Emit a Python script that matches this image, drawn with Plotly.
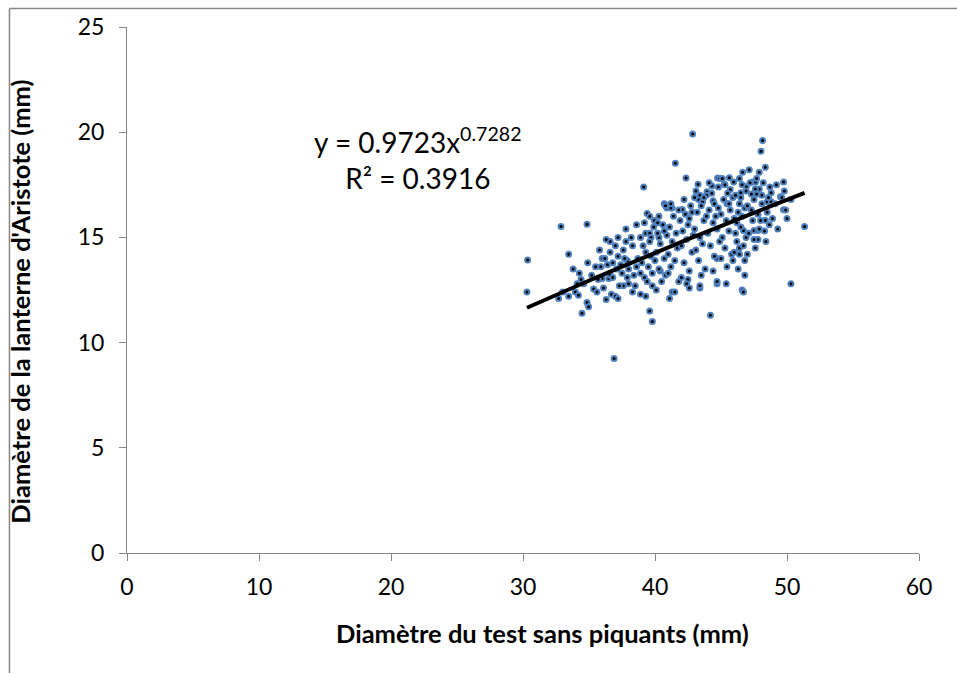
import numpy as np
import plotly.graph_objects as go

# Test diameter without spines (mm) and Aristotle's lantern diameter (mm)
test_diam = [
    30.35, 30.3, 32.88, 34.85, 33.46, 34.27, 32.7, 33.46, 33.96, 34.2, 34.6, 35.35, 34.85, 34.97, 34.47,
    36.3, 36.7, 37.0, 37.2, 36.9, 35.5, 35.9, 36.0, 36.2, 36.5, 36.0, 36.6, 36.8, 37.5, 37.9, 37.9, 38.6,
    36.6, 37.2, 37.7, 37.0, 37.2, 36.6, 38.2, 38.9, 39.3, 39.6, 39.7, 40.3, 39.4, 39.95, 40.7, 40.9, 41.3,
    39.14, 41.54, 42.85, 48.15, 48.03, 48.36, 46.64, 47.14, 42.35, 44.74, 45.63, 45.96, 45.25, 43.26, 44.32,
    47.37, 47.62, 49.74, 45.7, 43.94, 46.92, 47.3, 47.7, 47.9, 47.6, 46.5, 48.8, 49.5, 46.4, 46.5, 43.3,
    43.6, 43.0, 43.4, 40.8, 41.2, 44.4, 45.45, 48.1, 48.5, 48.8, 49.74, 51.33, 42.07, 48.36, 48.66, 46.7,
    47.5, 47.8, 47.8, 46.4, 46.4, 45.45, 46.8, 44.7, 39.8, 44.2, 50.3,
    39.6, 46.6, 44.7, 43.4, 42.5, 41.3, 39.3, 38.9, 40.4,
    37.6, 37.8, 38.0, 38.3, 38.4, 38.5, 38.7, 38.9, 38.0, 38.3, 37.8, 38.6, 37.4, 37.6,
    39.0, 39.1, 39.2, 39.3, 39.4, 39.5, 39.6, 39.7, 39.8, 39.9, 39.2, 39.8, 39.6,
    40.0, 40.1, 40.2, 40.3, 40.4, 40.5, 40.6, 40.7, 40.8, 40.9, 40.1, 40.3, 40.2, 40.7,
    41.0, 41.1, 41.2, 41.3, 41.4, 41.5, 41.6, 41.7, 41.8, 41.9, 41.0, 41.2, 41.5, 41.8, 41.1,
    42.0, 42.1, 42.2, 42.3, 42.4, 42.5, 42.6, 42.7, 42.8, 42.9, 42.0, 42.2, 42.4, 42.6, 42.8, 42.6,
    43.0, 43.1, 43.2, 43.3, 43.4, 43.5, 43.6, 43.7, 43.8, 43.9, 43.1, 43.5, 43.9, 43.7, 43.4,
    44.0, 44.1, 44.2, 44.3, 44.4, 44.5, 44.6, 44.7, 44.8, 44.9, 44.4, 44.5, 44.8, 44.1, 44.7, 44.9,
    45.0, 45.1, 45.2, 45.3, 45.4, 45.5, 45.6, 45.7, 45.8, 45.9, 45.0, 45.3, 45.6, 45.9, 45.1, 45.4,
    46.0, 46.1, 46.2, 46.3, 46.5, 46.6, 46.7, 46.8, 46.9, 46.0, 46.2, 46.4, 46.6, 46.8, 46.9, 46.3, 46.7, 46.1,
    47.0, 47.1, 47.2, 47.4, 47.5, 47.6, 47.8, 47.9, 47.0, 47.3, 47.7, 47.5, 47.9,
    48.0, 48.2, 48.3, 48.5, 48.7, 48.9, 48.4, 48.6, 48.1,
    49.1, 49.3, 49.6, 49.8, 49.9, 50.3, 49.2, 50.0,
    35.2, 35.6, 35.8, 36.1, 36.4, 36.8, 37.1, 37.3, 36.3, 35.7, 34.9, 34.4, 34.1, 33.8, 33.0,
]
lantern_diam = [
    13.92, 12.41, 15.52, 15.62, 14.2, 13.3, 12.1, 12.2, 12.4, 12.25, 12.8, 12.55, 11.9, 11.7, 11.4,
    12.05, 12.3, 12.2, 12.1, 9.24, 13.6, 13.6, 14.0, 14.0, 13.05, 13.05, 13.2, 13.1, 13.3, 13.1, 13.9, 13.6,
    14.3, 14.1, 14.0, 14.6, 15.0, 14.8, 15.0, 15.0, 15.2, 15.2, 15.0, 15.0, 16.14, 15.8, 16.6, 16.4, 16.4,
    17.4, 18.52, 19.92, 19.61, 19.1, 18.33, 18.1, 18.21, 17.82, 17.82, 17.83, 17.63, 17.53, 17.53, 17.44,
    17.63, 17.63, 17.63, 17.28, 17.17, 17.41, 17.06, 17.06, 17.3, 17.3, 17.12, 17.12, 16.93, 16.6, 16.9, 16.8,
    16.7, 16.9, 17.0, 16.5, 16.4, 16.74, 16.6, 16.6, 16.7, 16.7, 16.31, 15.52, 16.33, 15.82, 15.6, 15.33,
    15.33, 15.33, 14.9, 14.5, 14.2, 13.6, 13.2, 14.0, 11.0, 11.3, 12.8,
    11.5, 12.5, 12.8, 12.6, 13.0, 12.4, 12.2, 12.3, 13.4,
    14.4, 14.8, 13.5, 14.6, 13.2, 12.7, 14.0, 13.3, 12.8, 12.4, 15.4, 15.6, 13.7, 12.7,
    13.8, 14.6, 13.1, 14.3, 12.9, 13.6, 14.8, 14.1, 13.3, 15.5, 15.7, 12.7, 16.0,
    13.9, 14.3, 15.2, 13.5, 14.7, 12.9, 15.6, 14.0, 13.2, 15.1, 12.5, 16.0, 15.7, 15.3,
    14.2, 15.5, 13.6, 14.8, 16.0, 13.9, 15.2, 14.5, 12.9, 15.8, 13.3, 16.6, 12.4, 16.3, 12.1,
    14.6, 15.3, 13.8, 16.1, 14.9, 15.6, 13.4, 16.5, 14.3, 15.1, 13.1, 16.8, 12.8, 15.9, 16.2, 12.6,
    15.4, 14.4, 16.2, 13.9, 15.0, 16.5, 14.7, 15.8, 13.5, 16.0, 17.2, 13.2, 17.0, 16.9, 12.7,
    15.2, 16.3, 14.6, 17.1, 15.7, 14.1, 16.0, 15.4, 17.4, 14.8, 13.4, 16.6, 16.4, 17.6, 12.9, 17.8,
    16.1, 15.0, 16.8, 14.5, 15.8, 17.1, 15.3, 16.3, 14.2, 16.9, 14.0, 17.5, 16.6, 13.9, 17.8, 12.8,
    15.9, 17.0, 14.8, 16.2, 15.5, 17.5, 14.6, 16.4, 15.0, 14.3, 15.7, 17.8, 16.0, 13.9, 17.2, 13.5, 12.4, 15.2,
    16.5, 15.2, 17.6, 15.8, 16.8, 14.5, 16.1, 15.4, 14.2, 16.3, 17.8, 14.9, 18.1,
    15.8, 17.6, 15.3, 16.2, 17.4, 15.9, 14.8, 16.9, 17.0,
    16.6, 15.4, 16.9, 17.2, 16.3, 16.8, 17.5, 15.9,
    13.2, 12.4, 14.4, 12.6, 13.7, 13.8, 13.5, 12.7, 14.9, 13.0, 13.8, 13.0, 12.8, 13.5, 12.4,
]

# Power trend line y = a * x^b
coef_a = 0.9723
coef_b = 0.7282
r_squared = 0.3916

x_ticks = [0, 10, 20, 30, 40, 50, 60]
y_ticks = [0, 5, 10, 15, 20, 25]

FONT = "Lato"
AXIS_GREY = "#868686"

fit_x = np.linspace(min(test_diam), max(test_diam), 200)
fit_y = coef_a * fit_x ** coef_b

fig = go.Figure()
fig.add_trace(go.Scatter(
    x=test_diam, y=lantern_diam, mode="markers",
    marker=dict(size=5, color="black", line=dict(color="#4F81BD", width=2)),
    showlegend=False, hoverinfo="x+y",
))
fig.add_trace(go.Scatter(
    x=fit_x, y=fit_y, mode="lines",
    line=dict(color="black", width=4),
    showlegend=False, hoverinfo="skip",
))

axis_common = dict(
    showgrid=False, zeroline=False, showline=True, linecolor=AXIS_GREY, linewidth=1,
    ticks="outside", ticklen=7, tickcolor=AXIS_GREY, tickwidth=1,
    tickfont=dict(family=FONT, size=23, color="black"),
)
fig.update_xaxes(range=[0, 60], tickvals=x_ticks, ticklabelstandoff=6, **axis_common)
fig.update_yaxes(range=[0, 25], tickvals=y_ticks, ticklabelstandoff=10, **axis_common)

fig.update_layout(
    width=957, height=673,
    margin=dict(l=127, r=38, t=27, b=120),
    paper_bgcolor="white", plot_bgcolor="white",
    font=dict(family=FONT, color="black"),
    annotations=[
        dict(text="<b>Diamètre du test sans piquants (mm)</b>", xref="paper", yref="paper",
             x=0.5246, y=-0.1527, xanchor="center", yanchor="middle", showarrow=False,
             font=dict(family=FONT, size=25.5, color="black")),
        dict(text="<b>Diamètre de la lanterne d'Aristote (mm)</b>", xref="paper", yref="paper",
             x=-0.1351, y=0.4778, xanchor="center", yanchor="middle", showarrow=False, textangle=-90,
             font=dict(family=FONT, size=25.5, color="black")),
        dict(text=f"y = {coef_a}x<sup>{coef_b}</sup><br>R² = {r_squared}", xref="paper", yref="paper",
             x=0.368, y=0.7508, xanchor="center", yanchor="middle", align="center", showarrow=False,
             font=dict(family=FONT, size=28, color="black")),
    ],
    shapes=[
        dict(type="line", xref="paper", yref="paper", x0=-0.1484, x1=-0.1484, y0=-0.3, y1=1.0352,
             line=dict(color=AXIS_GREY, width=1.5)),
        dict(type="line", xref="paper", yref="paper", x0=-0.1484, x1=1.1, y0=1.0352, y1=1.0352,
             line=dict(color=AXIS_GREY, width=1.5)),
    ],
)

fig.write_html("out.html")
